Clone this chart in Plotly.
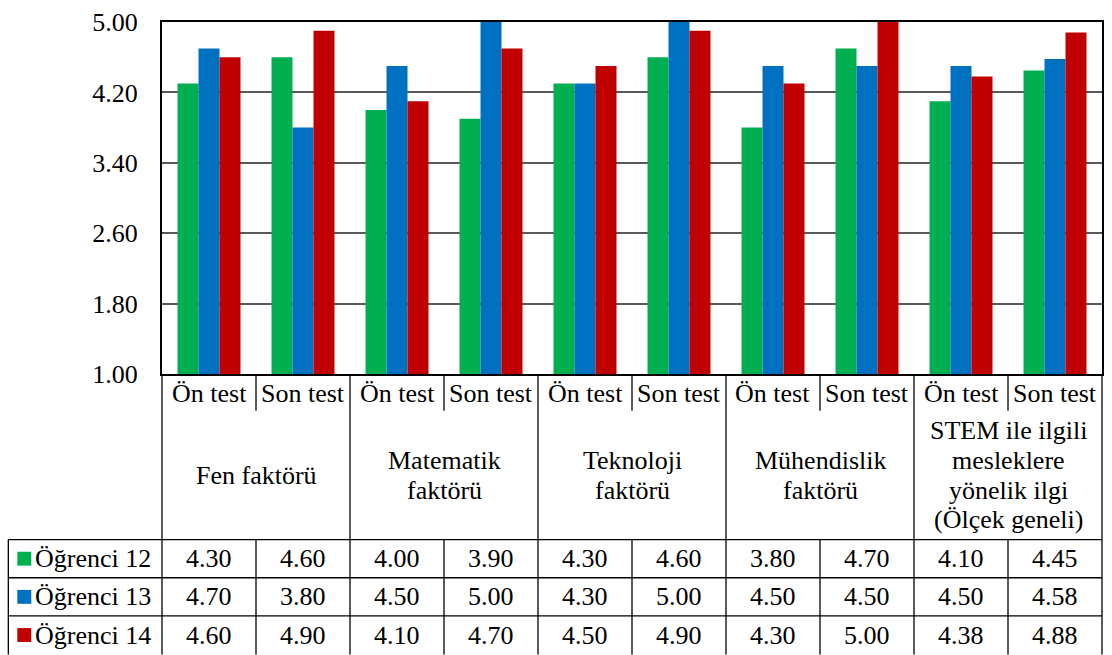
import plotly.graph_objects as go

# Data
groups = [
    "Fen faktörü",
    "Matematik\nfaktörü",
    "Teknoloji\nfaktörü",
    "Mühendislik\nfaktörü",
    "STEM ile ilgili\nmesleklere\nyönelik ilgi\n(Ölçek geneli)",
]
tests = ["Ön test", "Son test"]
series_names = ["Öğrenci 12", "Öğrenci 13", "Öğrenci 14"]
ogrenci_12 = [4.30, 4.60, 4.00, 3.90, 4.30, 4.60, 3.80, 4.70, 4.10, 4.45]
ogrenci_13 = [4.70, 3.80, 4.50, 5.00, 4.30, 5.00, 4.50, 4.50, 4.50, 4.58]
ogrenci_14 = [4.60, 4.90, 4.10, 4.70, 4.50, 4.90, 4.30, 5.00, 4.38, 4.88]
y_ticks = [1.00, 1.80, 2.60, 3.40, 4.20, 5.00]

series = [ogrenci_12, ogrenci_13, ogrenci_14]
colors = ["#00B050", "#0070C0", "#C00000"]

FONT = "Liberation Serif"
FS = 26
LINE_H = 30
W, H = 1112, 655
ML, MR, MT, MB = 162, 8, 19, 281
plot_w = W - ML - MR
plot_h = H - MT - MB
n = len(ogrenci_12)
xpos = list(range(n))


def py(pix):
    """Pixel row (from top of page) -> paper y."""
    return (H - MB - pix) / plot_h


def px(pix):
    """Pixel column -> paper x."""
    return (pix - ML) / plot_w


def xb(k):
    """Paper x of the boundary to the left of category k."""
    return k / n


def label(text, x, y, xanchor="center"):
    return dict(text=text, x=x, y=y, xref="paper", yref="paper", showarrow=False,
                xanchor=xanchor, yanchor="middle", align="center",
                font=dict(family=FONT, size=FS, color="black"))


fig = go.Figure()
for name, vals, col in zip(series_names, series, colors):
    fig.add_trace(go.Bar(x=xpos, y=vals, name=name, marker_color=col,
                         marker_line_width=0, showlegend=False))

shapes = []
annotations = []
line = dict(color="black", width=1.3)

# table geometry (pixel rows)
top_tbl = H - MB
row1_bot = 411
row2_bot = 541
data_rows = [541, 579.5, 618, 656.5]
tbl_left = 8
bottom = H + 2

# vertical lines at category boundaries
for k in range(1, n):
    x = xb(k)
    if k % 2 == 0:
        shapes.append(dict(type="line", xref="paper", yref="paper", x0=x, x1=x,
                           y0=py(top_tbl), y1=py(bottom), line=line))
    else:
        shapes.append(dict(type="line", xref="paper", yref="paper", x0=x, x1=x,
                           y0=py(top_tbl), y1=py(row1_bot), line=line))
        shapes.append(dict(type="line", xref="paper", yref="paper", x0=x, x1=x,
                           y0=py(row2_bot), y1=py(bottom), line=line))
# outer verticals of the table
for x in (0, 1):
    shapes.append(dict(type="line", xref="paper", yref="paper", x0=x, x1=x,
                       y0=0, y1=py(bottom), line=line))
shapes.append(dict(type="line", xref="paper", yref="paper", x0=px(tbl_left), x1=px(tbl_left),
                   y0=py(row2_bot), y1=py(bottom), line=line))
# horizontal lines of data rows
for r in data_rows[:-1]:
    shapes.append(dict(type="line", xref="paper", yref="paper", x0=px(tbl_left), x1=1,
                       y0=py(r), y1=py(r), line=line))

# test labels
for i in range(n):
    annotations.append(label(tests[i % 2], (xb(i) + xb(i + 1)) / 2, py((top_tbl + row1_bot) / 2 + 1)))
# group labels, one annotation per line for tight leading
mid2 = (row1_bot + row2_bot) / 2
for g, name in enumerate(groups):
    lines = name.split("\n")
    for j, t in enumerate(lines):
        yc = mid2 + (j - (len(lines) - 1) / 2) * LINE_H
        annotations.append(label(t, xb(2 * g + 1), py(yc)))
# data rows
for r, (name, vals, col) in enumerate(zip(series_names, series, colors)):
    yc = (data_rows[r] + data_rows[r + 1]) / 2
    shapes.append(dict(type="rect", xref="paper", yref="paper",
                       x0=px(17), x1=px(31), y0=py(yc - 7), y1=py(yc + 7),
                       fillcolor=col, line=dict(width=0)))
    annotations.append(label(name, px(33), py(yc), xanchor="left"))
    for i, v in enumerate(vals):
        annotations.append(label(f"{v:.2f}", (xb(i) + xb(i + 1)) / 2, py(yc)))

fig.update_layout(
    width=W, height=H,
    margin=dict(l=ML, r=MR, t=MT, b=MB),
    paper_bgcolor="white", plot_bgcolor="white",
    barmode="group", bargap=0.33, bargroupgap=0,
    shapes=shapes, annotations=annotations,
    font=dict(family=FONT, size=FS, color="black"),
    xaxis=dict(range=[-0.5, n - 0.5], showticklabels=False, showgrid=False,
               zeroline=False, showline=True, linecolor="black", linewidth=2, mirror=True),
    yaxis=dict(range=[1, 5], tickvals=y_ticks, ticktext=[f"{t:.2f}" for t in y_ticks],
               showgrid=True, gridcolor="#595959", gridwidth=1.5, zeroline=False,
               showline=True, linecolor="black", linewidth=2, mirror=True,
               ticklabelstandoff=17,
               tickfont=dict(family=FONT, size=FS, color="black")),
)

fig.write_html("out.html")
